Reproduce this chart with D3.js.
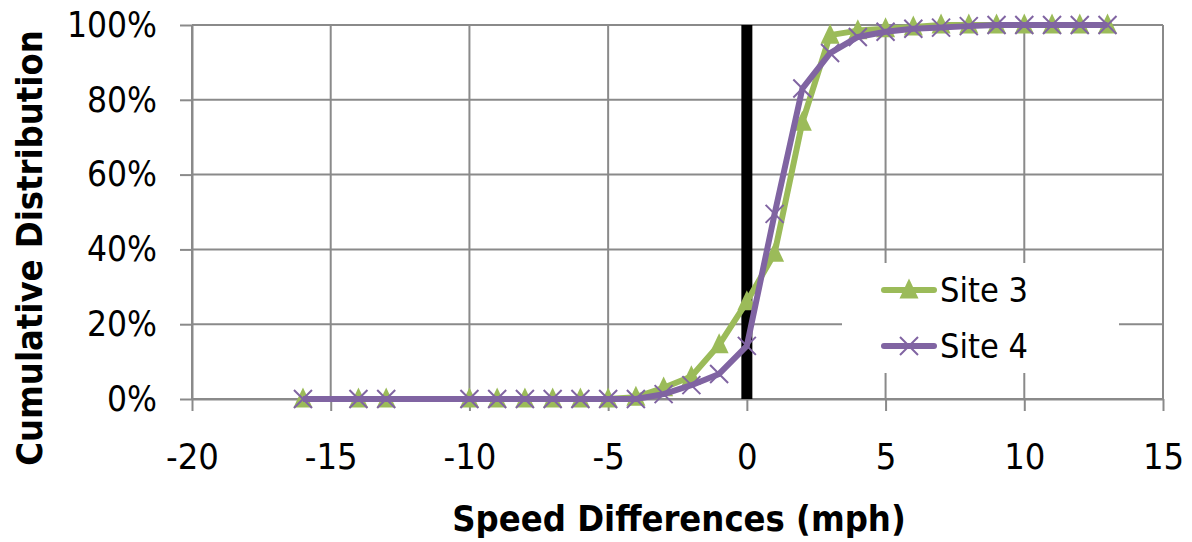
<!DOCTYPE html>
<html><head><meta charset="utf-8">
<script src="https://cdn.jsdelivr.net/npm/d3@7"></script>
<style>body{margin:0;background:#fff}svg{display:block}</style>
</head><body><svg id="c" width="1192" height="542"></svg>
<script>
const speedDiff = [-16,-14,-13,-10,-9,-8,-7,-6,-5,-4,-3,-2,-1,0,1,2,3,4,5,6,7,8,9,10,11,12,13];
const site3 = [0,0,0,0,0,0,0,0,0,0.5,3,6,14.5,26,39,74,97.3,98.5,99,99.5,100,100,100,100,100,100,100];
const site4 = [0,0,0,0,0,0,0,0,0,0,1.3,3.7,6.7,14.2,49.5,83,92.5,96.8,98.2,99,99.3,99.7,100,100,100,100,100];
const xTicks = [-20,-15,-10,-5,0,5,10,15];
const yTicks = [0,20,40,60,80,100];
const seriesNames = ["Site 3","Site 4"];
const colors = ["#9BBB59","#8064A2"];

const svg = d3.select("#c");
const font = "'DejaVu Sans Condensed','DejaVu Sans',sans-serif";
const grid = "#8a8a8a";
const L=192,R=1163,T=25,B=399;
const x = d3.scaleLinear().domain([-20,15]).range([L,R]);
const y = d3.scaleLinear().domain([0,100]).range([B,T]);

// gridlines
svg.append("g").selectAll("line").data(yTicks).join("line")
  .attr("x1",L).attr("x2",R).attr("y1",d=>y(d)).attr("y2",d=>y(d))
  .attr("stroke",grid).attr("stroke-width",2);
svg.append("g").selectAll("line").data(xTicks).join("line")
  .attr("x1",d=>x(d)).attr("x2",d=>x(d)).attr("y1",T).attr("y2",B)
  .attr("stroke",grid).attr("stroke-width",2);

// axes
const xAxis = d3.axisBottom(x).tickValues(xTicks).tickFormat(d=>String(d)).tickSize(12).tickPadding(32).tickSizeOuter(0);
const gx = svg.append("g").attr("transform",`translate(0,${B})`).call(xAxis);
gx.select(".domain").attr("stroke",grid).attr("stroke-width",2);
gx.selectAll(".tick line").attr("stroke",grid).attr("stroke-width",2);
gx.selectAll("text").attr("font-family",font).attr("font-size",36).attr("fill","#000");

const yAxis = d3.axisLeft(y).tickValues(yTicks).tickFormat(d=>d+"%").tickSize(12).tickPadding(23).tickSizeOuter(0);
const gy = svg.append("g").attr("transform",`translate(${L},0)`).call(yAxis);
gy.select(".domain").attr("stroke",grid).attr("stroke-width",2);
gy.selectAll(".tick line").attr("stroke",grid).attr("stroke-width",2);
gy.selectAll("text").attr("font-family",font).attr("font-size",35).attr("fill","#000");

// zero line
svg.append("line").attr("x1",x(0)).attr("x2",x(0)).attr("y1",y(100)).attr("y2",y(0))
  .attr("stroke","#000").attr("stroke-width",11);

const line = d3.line().x(d=>x(d[0])).y(d=>y(d[1]));
const d3data = speedDiff.map((s,i)=>[s,site3[i]]);
const d4data = speedDiff.map((s,i)=>[s,site4[i]]);

function tri(g,cx,cy,s,c){
  g.append("path").attr("d",`M${cx},${cy-s*0.6}L${cx+s/2},${cy+s*0.45}L${cx-s/2},${cy+s*0.45}Z`).attr("fill",c);
}
function cross(g,cx,cy,s,c){
  g.append("path").attr("d",`M${cx-s/2},${cy-s/2}L${cx+s/2},${cy+s/2}M${cx-s/2},${cy+s/2}L${cx+s/2},${cy-s/2}`)
   .attr("stroke",c).attr("stroke-width",2);
}

svg.append("path").attr("d",line(d3data)).attr("fill","none").attr("stroke",colors[0]).attr("stroke-width",6).attr("stroke-linejoin","round");
const m3 = svg.append("g");
d3data.forEach(d=>tri(m3,x(d[0]),y(d[1]),19,colors[0]));
svg.append("path").attr("d",line(d4data)).attr("fill","none").attr("stroke",colors[1]).attr("stroke-width",6).attr("stroke-linejoin","round");
const m4 = svg.append("g");
d4data.forEach(d=>cross(m4,x(d[0]),y(d[1]),18,colors[1]));

// legend
svg.append("rect").attr("x",842).attr("y",263).attr("width",277).attr("height",110).attr("fill","#fff");
const lg = svg.append("g");
[0,1].forEach(i=>{
  const ly = 290 + i*56;
  lg.append("line").attr("x1",884).attr("x2",934).attr("y1",ly).attr("y2",ly)
    .attr("stroke",colors[i]).attr("stroke-width",6).attr("stroke-linecap","round");
  if(i===0) tri(lg,909,ly,19,colors[0]); else cross(lg,909,ly,18,colors[1]);
  lg.append("text").attr("x",940).attr("y",ly).attr("dy","0.36em").attr("font-family",font)
    .attr("font-size",34).text(seriesNames[i]);
});

// titles
svg.append("text").attr("x",679).attr("y",531).attr("text-anchor","middle")
  .attr("font-family",font).attr("font-weight","bold").attr("font-size",36).text("Speed Differences (mph)");
svg.append("text").attr("transform",`translate(42,248) rotate(-90)`).attr("text-anchor","middle")
  .attr("font-family",font).attr("font-weight","bold").attr("font-size",36).text("Cumulative Distribution");
</script></body></html>
